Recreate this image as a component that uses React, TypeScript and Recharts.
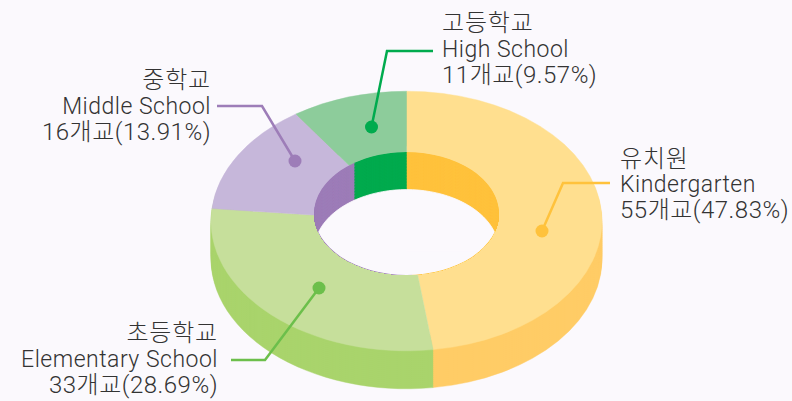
import { PieChart, Pie, Cell, Sector } from "recharts";

const schools = ["Kindergarten", "Elementary School", "Middle School", "High School"];
const koreanNames = ["유치원", "초등학교", "중학교", "고등학교"];
const counts = [55, 33, 16, 11];
const countLabels = ["55개교(47.83%)", "33개교(28.69%)", "16개교(13.91%)", "11개교(9.57%)"];

const TOP_COLORS = ["#FFDF8F", "#C6DF9B", "#C6B7DA", "#8DCC9B"];
const SIDE_COLORS = ["#FFCC66", "#A9D46C", "#A9D46C", "#A9D46C"];
const WALL_COLORS = ["#FFC23C", "#9D7DB8", "#9D7DB8", "#00AB4E"];
const LINE_COLORS = ["#FFC23C", "#6CBF4B", "#9D7DB8", "#00AB4E"];
const BG = "#FBF9FD";

const WIDTH = 792;
const HEIGHT = 401;
const CX = 406.5;
const CY = 221;
const HOLE_CX = 406.5;
const HOLE_CY = 213.5;
const OUTER_R = 195.5;
const HOLE_R = 92.5;
const SQUASH = 0.664;
const DEPTH = 38;
const HOLE_DEPTH = 37.5;

const chartData = schools.map((name, i) => ({ name, value: counts[i] }));
const floorData = [{ name: "floor", value: 1 }];

// Leader lines and captions per category, same order as schools
const leaders = [
  { points: "542,231 563,183 610,183", dot: [542, 231], x: 620, anchor: "start", y: [167, 192, 218] },
  { points: "319,288 265,360 231,360", dot: [319, 288], x: 218, anchor: "end", y: [341, 367, 393] },
  { points: "295,161 262,106 217,106", dot: [295, 161], x: 211, anchor: "end", y: [88, 114, 140] },
  { points: "371.5,127 387,51 433,51", dot: [371.5, 127], x: 442, anchor: "start", y: [31, 57, 83] },
];

// Pie is round, so flatten each sector around its own centre to get the tilted look.
function squashed(props: any) {
  return (
    <g transform={`translate(0 ${props.cy}) scale(1 ${SQUASH}) translate(0 ${-props.cy})`}>
      <Sector {...props} />
    </g>
  );
}

const sideOffsets: number[] = [];
for (let d = DEPTH; d > 0; d -= 2) sideOffsets.push(d);
const wallOffsets: number[] = [];
for (let d = 0; d < HOLE_DEPTH; d += 1.5) wallOffsets.push(d);

function layer(key: string, cx: number, cy: number, inner: number, outer: number, colors: string[]) {
  return (
    <Pie
      key={key}
      data={chartData}
      dataKey="value"
      nameKey="name"
      cx={cx}
      cy={cy}
      innerRadius={inner}
      outerRadius={outer}
      startAngle={90}
      endAngle={-270}
      isAnimationActive={false}
      shape={squashed}
    >
      {chartData.map((d, i) => (
        <Cell key={d.name} fill={colors[i]} stroke={colors[i]} strokeWidth={0.5} />
      ))}
    </Pie>
  );
}

const layerStyle = { position: "absolute", left: 0, top: 0 } as const;

export default function App() {
  return (
    <div style={{ ...layerStyle, width: WIDTH, height: HEIGHT, background: BG }}>
      <div style={layerStyle}>
        <PieChart width={WIDTH} height={HEIGHT} margin={{ top: 0, right: 0, bottom: 0, left: 0 }}>
          {sideOffsets.map((d) => layer(`side-${d}`, CX, CY + d, 170, OUTER_R, SIDE_COLORS))}
          {layer("top", CX, CY, 0, OUTER_R, TOP_COLORS)}
        </PieChart>
      </div>
      {/* Inner wall and floor: stacked discs seen through the hole, clipped once as a whole */}
      <div
        style={{
          ...layerStyle,
          clipPath: `ellipse(${HOLE_R}px ${HOLE_R * SQUASH}px at ${HOLE_CX}px ${HOLE_CY}px)`,
        }}
      >
        <PieChart width={WIDTH} height={HEIGHT} margin={{ top: 0, right: 0, bottom: 0, left: 0 }}>
          {wallOffsets.map((d) => layer(`wall-${d}`, HOLE_CX, HOLE_CY + d, 0, HOLE_R, WALL_COLORS))}
          <Pie
            data={floorData}
            dataKey="value"
            cx={HOLE_CX}
            cy={HOLE_CY + HOLE_DEPTH}
            innerRadius={0}
            outerRadius={HOLE_R}
            fill={BG}
            stroke={BG}
            isAnimationActive={false}
            shape={squashed}
          />
        </PieChart>
      </div>
      {/* Pies paint above any svg children of the chart, so the leaders get their own layer */}
      <svg width={WIDTH} height={HEIGHT} style={layerStyle}>
        {leaders.map((l, i) => (
          <g key={schools[i]}>
            <polyline points={l.points} fill="none" stroke={LINE_COLORS[i]} strokeWidth={2.5} />
            <circle cx={l.dot[0]} cy={l.dot[1]} r={6.5} fill={LINE_COLORS[i]} />
            <g
              fontFamily="Roboto, 'Noto Sans CJK KR', sans-serif"
              fontWeight={300}
              fill="#333333"
              textAnchor={l.anchor}
            >
              <text x={l.x} y={l.y[0]} fontSize={24} letterSpacing={0.8}>{koreanNames[i]}</text>
              <text x={l.x} y={l.y[1]} fontSize={23} letterSpacing={0.5}>{schools[i]}</text>
              <text x={l.x} y={l.y[2]} fontSize={24} letterSpacing={0.5}>{countLabels[i]}</text>
            </g>
          </g>
        ))}
      </svg>
    </div>
  );
}
